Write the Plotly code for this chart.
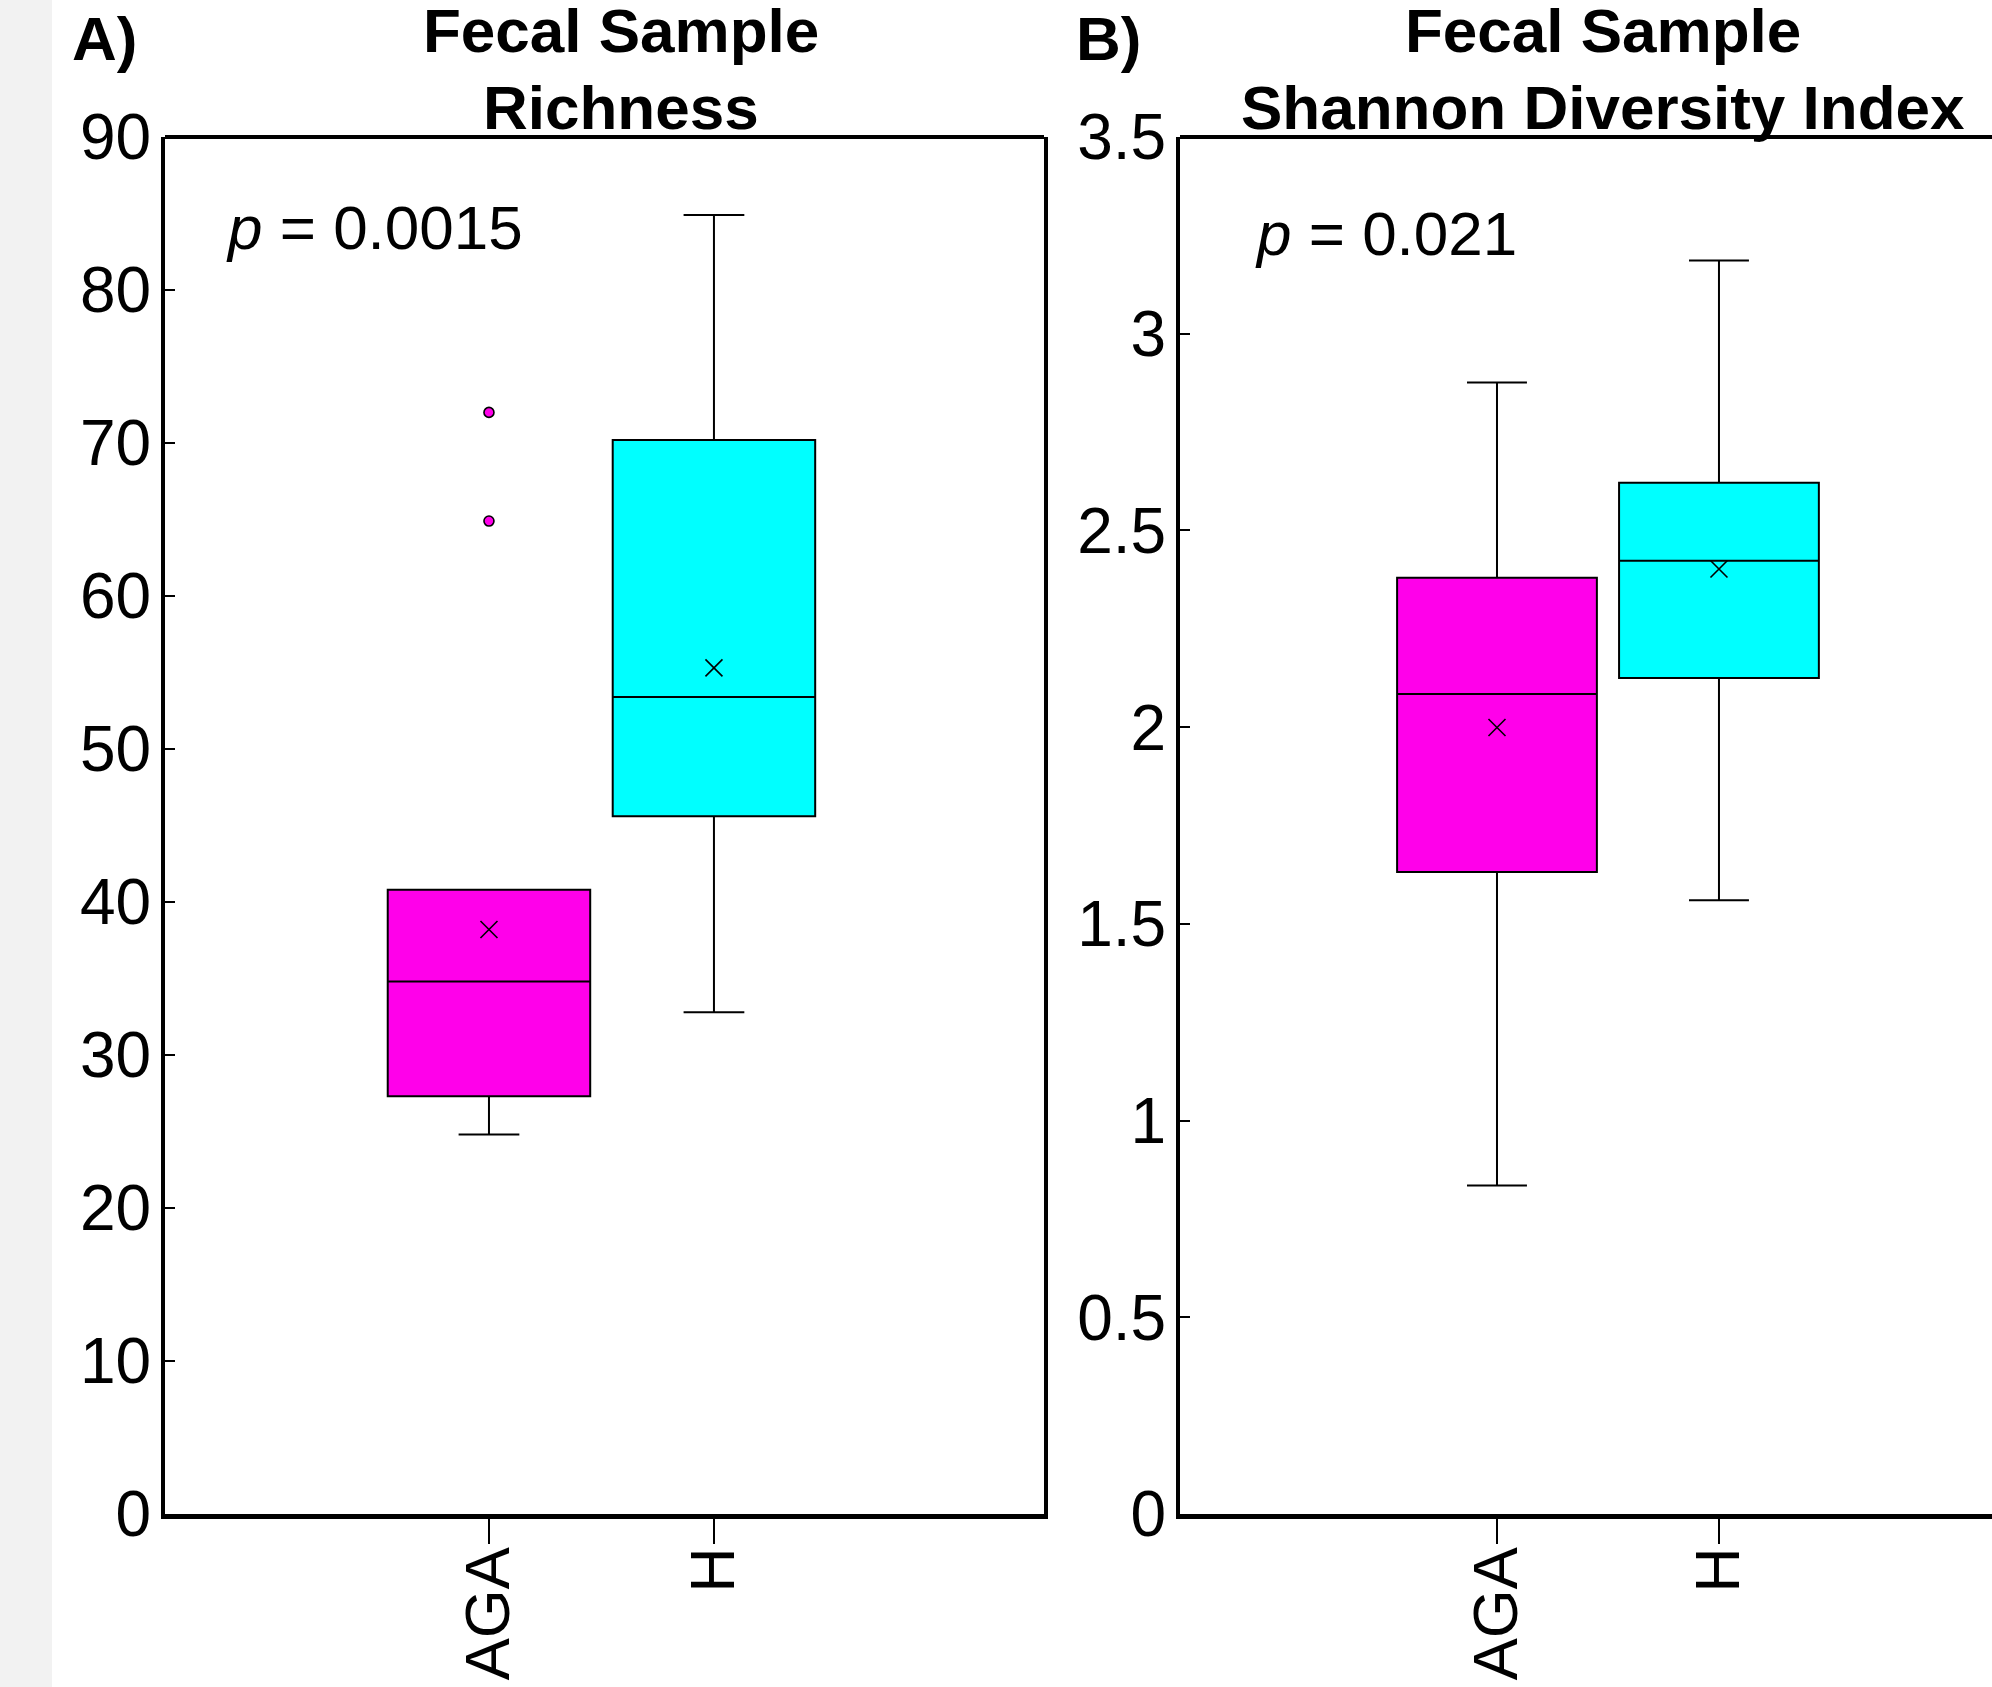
import plotly.graph_objects as go

# ---- data ----
groups = ["AGA", "H"]
group_pos = [0, 1]
colors = ["#FF00EA", "#00FFFF"]

# Panel A: Richness
rich_q1 = [27.3, 45.6]
rich_median = [34.8, 53.4]
rich_q3 = [40.8, 70.2]
rich_lower = [24.8, 32.8]
rich_upper = [40.8, 84.9]
rich_mean = [38.2, 55.3]
rich_outliers = [72.0, 64.9]

# Panel B: Shannon
shan_q1 = [1.632, 2.125]
shan_median = [2.084, 2.423]
shan_q3 = [2.380, 2.621]
shan_lower = [0.835, 1.560]
shan_upper = [2.876, 3.186]
shan_mean = [1.999, 2.402]

rich_ticks = [0, 10, 20, 30, 40, 50, 60, 70, 80, 90]
shan_ticks = [0, 0.5, 1, 1.5, 2, 2.5, 3, 3.5]
shan_ticktext = ["0", "0.5", "1", "1.5", "2", "2.5", "3", "3.5"]

W, H = 1992, 1687
FONT = "Liberation Sans, Arial, sans-serif"

fig = go.Figure()

def add_boxes(xa, ya, q1, med, q3, lo, up, mean):
    for i in range(len(groups)):
        fig.add_trace(go.Box(
            x=[group_pos[i]], q1=[q1[i]], median=[med[i]], q3=[q3[i]],
            lowerfence=[lo[i]], upperfence=[up[i]],
            width=0.9, whiskerwidth=0.3, fillcolor=colors[i],
            line=dict(color="black", width=2), boxpoints=False,
            xaxis=xa, yaxis=ya, showlegend=False, hoverinfo="skip"))
    fig.add_trace(go.Scatter(
        x=group_pos, y=mean, mode="markers",
        marker=dict(symbol="x-thin-open", size=17, color="black",
                    line=dict(color="black", width=1.6)),
        xaxis=xa, yaxis=ya, showlegend=False, hoverinfo="skip"))

add_boxes("x", "y", rich_q1, rich_median, rich_q3, rich_lower, rich_upper, rich_mean)
fig.add_trace(go.Scatter(
    x=[group_pos[0]] * len(rich_outliers), y=rich_outliers, mode="markers",
    marker=dict(symbol="circle", size=10, color=colors[0],
                line=dict(color="black", width=1.6)),
    xaxis="x", yaxis="y", showlegend=False, hoverinfo="skip"))
add_boxes("x2", "y2", shan_q1, shan_median, shan_q3, shan_lower, shan_upper, shan_mean)

ydom = [1 - 1514 / H, 1 - 137 / H]

common_x = dict(
    tickmode="array", tickvals=group_pos, ticktext=groups, tickangle=-90,
    ticks="outside", ticklen=25, tickwidth=1.5, tickcolor="black",
    showline=True, linewidth=5, linecolor="black", mirror=False,
    showgrid=False, zeroline=False, automargin=False,
    tickfont=dict(family=FONT, size=63, color="black"),
    ticklabelstandoff=-22,
)
common_y = dict(
    ticks="inside", ticklen=10, tickwidth=1.5, tickcolor="black",
    showline=True, linewidth=4, linecolor="black",
    showgrid=False, zeroline=False, automargin=False,
    tickfont=dict(family=FONT, size=64, color="black"),
    ticklabelstandoff=-3,
)

fig.update_layout(
    template="none",
    width=W, height=H, margin=dict(l=0, r=0, t=0, b=0, pad=0, autoexpand=False),
    paper_bgcolor="white", plot_bgcolor="white",
    xaxis=dict(domain=[165 / W, 1044 / W], range=[-1.44, 2.467], **common_x),
    yaxis=dict(domain=ydom, range=[0, 90], tickvals=rich_ticks,
               mirror=True, anchor="x", **common_y),
    xaxis2=dict(domain=[1180 / W, 1.0], range=[-1.428, 2.23], anchor="y2", **common_x),
    yaxis2=dict(domain=ydom, range=[0, 3.5], tickvals=shan_ticks,
                ticktext=shan_ticktext, mirror=False, anchor="x2", **common_y),
)

shapes = [
    dict(type="rect", xref="paper", yref="paper", x0=0, x1=52 / W, y0=0, y1=1,
         fillcolor="#F2F2F2", line=dict(width=0), layer="below"),
    dict(type="line", xref="x domain", yref="y domain", x0=0, x1=1, y0=1, y1=1,
         line=dict(color="black", width=4)),
    dict(type="line", xref="x2 domain", yref="y2 domain", x0=0, x1=1, y0=1, y1=1,
         line=dict(color="black", width=4)),
]
fig.update_layout(shapes=shapes)

def ann(text, x_px, y_center_px, bold=False, anchor="center", size=62):
    return dict(text=("<b>%s</b>" % text) if bold else text,
                xref="paper", yref="paper", x=x_px / W, y=1 - y_center_px / H,
                xanchor=anchor, yanchor="middle", showarrow=False,
                font=dict(family=FONT, size=size, color="black"))

annotations = [
    ann("A)", 70, 38, bold=True, anchor="left"),
    ann("B)", 1074, 38, bold=True, anchor="left"),
    ann("Fecal Sample", 621, 30, bold=True),
    ann("Richness", 621, 108, bold=True),
    ann("Fecal Sample", 1603, 30, bold=True),
    ann("Shannon Diversity Index", 1603, 108, bold=True),
    ann("<i>p</i> = 0.0015", 224, 228, anchor="left"),
    ann("<i>p</i> = 0.021", 1253, 234, anchor="left"),
]
fig.update_layout(annotations=annotations)

fig.write_html("out.html")
